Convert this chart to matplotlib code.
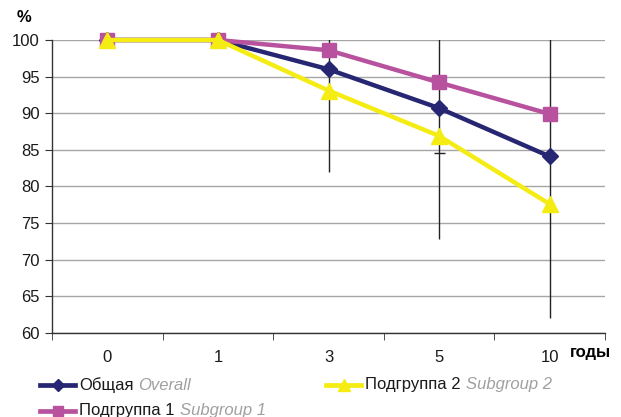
import matplotlib
matplotlib.use("Agg")
import matplotlib.pyplot as plt
from matplotlib.lines import Line2D
import numpy as np

plt.rcParams["font.family"] = ["Liberation Sans", "DejaVu Sans"]

years = ["0", "1", "3", "5", "10"]
overall = [100, 100, 96.0, 90.7, 84.1]
subgroup1 = [100, 100, 98.6, 94.2, 89.9]
subgroup2 = [100, 100, 93.1, 86.9, 77.6]
# error bars (drawn for years 3, 5, 10), clipped at 100 by the axes
err_idx = [2, 3, 4]
err_low = [82.0, 72.8, 62.0]
err_high = [101.0, 101.0, 101.0]
cap_idx = 3
cap_val = 84.6

NAVY = "#262673"
PINK = "#b8529f"
YELLOW = "#f5ec13"

fig = plt.figure(figsize=(6.21, 4.17), dpi=100)
ax = fig.add_axes([52 / 621, 1 - 333 / 417, 553 / 621, 293 / 417])
x = np.arange(len(years))

ax.vlines(err_idx, err_low, err_high, color="#222222", lw=1.0, zorder=2)
ax.hlines(cap_val, cap_idx - 0.05, cap_idx + 0.05, color="#222222", lw=1.0, zorder=2)

ax.plot(x, overall, color=NAVY, lw=3.2, marker="D", ms=8, zorder=3, clip_on=False)
ax.plot(x, subgroup1, color=PINK, lw=3.2, marker="s", ms=10, zorder=4, clip_on=False)
ax.plot(x, subgroup2, color=YELLOW, lw=3.2, marker="^", ms=11, zorder=5, clip_on=False)

ax.set_xlim(-0.5, len(years) - 0.5)
ax.set_ylim(60, 100)
ax.set_yticks(range(60, 101, 5))
ax.yaxis.grid(True, color="#a6a6a6", lw=1.0)
ax.set_axisbelow(True)
ax.set_xticks(x)
ax.set_xticklabels(years)
ax.set_xticks(np.arange(-0.5, len(years), 1.0), minor=True)
ax.tick_params(axis="x", which="major", length=0, pad=12, labelsize=12, colors="#1a1a1a")
ax.tick_params(axis="x", which="minor", length=5, direction="out", color="#333333")
ax.tick_params(axis="y", length=5, direction="out", color="#333333", labelsize=12, pad=4, colors="#1a1a1a")
for s in ["top", "right"]:
    ax.spines[s].set_visible(False)
for s in ["left", "bottom"]:
    ax.spines[s].set_color("#333333")
    ax.spines[s].set_linewidth(1.0)

fig.text(17 / 621, 1 - 18 / 417, "%", fontsize=12, fontweight="bold", va="center", ha="left")
fig.text(570 / 621, 1 - 353 / 417, "годы", fontsize=12, fontweight="bold", va="center", ha="left")

legend_items = [
    (40, 385, NAVY, "D", 6, "Общая", "Overall"),
    (326, 385, YELLOW, "^", 8, "Подгруппа 2", "Subgroup 2"),
    (40, 411, PINK, "s", 7, "Подгруппа 1", "Subgroup 1"),
]
for px, py, col, mk, ms, ru, en in legend_items:
    fy = 1 - py / 417
    fig.add_artist(Line2D([px / 621, (px + 35) / 621], [fy, fy], color=col, lw=3.4,
                          transform=fig.transFigure))
    fig.add_artist(Line2D([(px + 17.5) / 621], [fy], color=col, marker=mk, ms=ms,
                          transform=fig.transFigure))
    t = fig.text((px + 39) / 621, fy, ru, fontsize=12, va="center", ha="left", color="#1a1a1a")
    fig.canvas.draw()
    bb = t.get_window_extent()
    fig.text(bb.x1 / 621 + 5 / 621, fy, en, fontsize=12, va="center", ha="left",
             color="#a0a0a0", style="italic")

fig.savefig("out.png", dpi=100)
